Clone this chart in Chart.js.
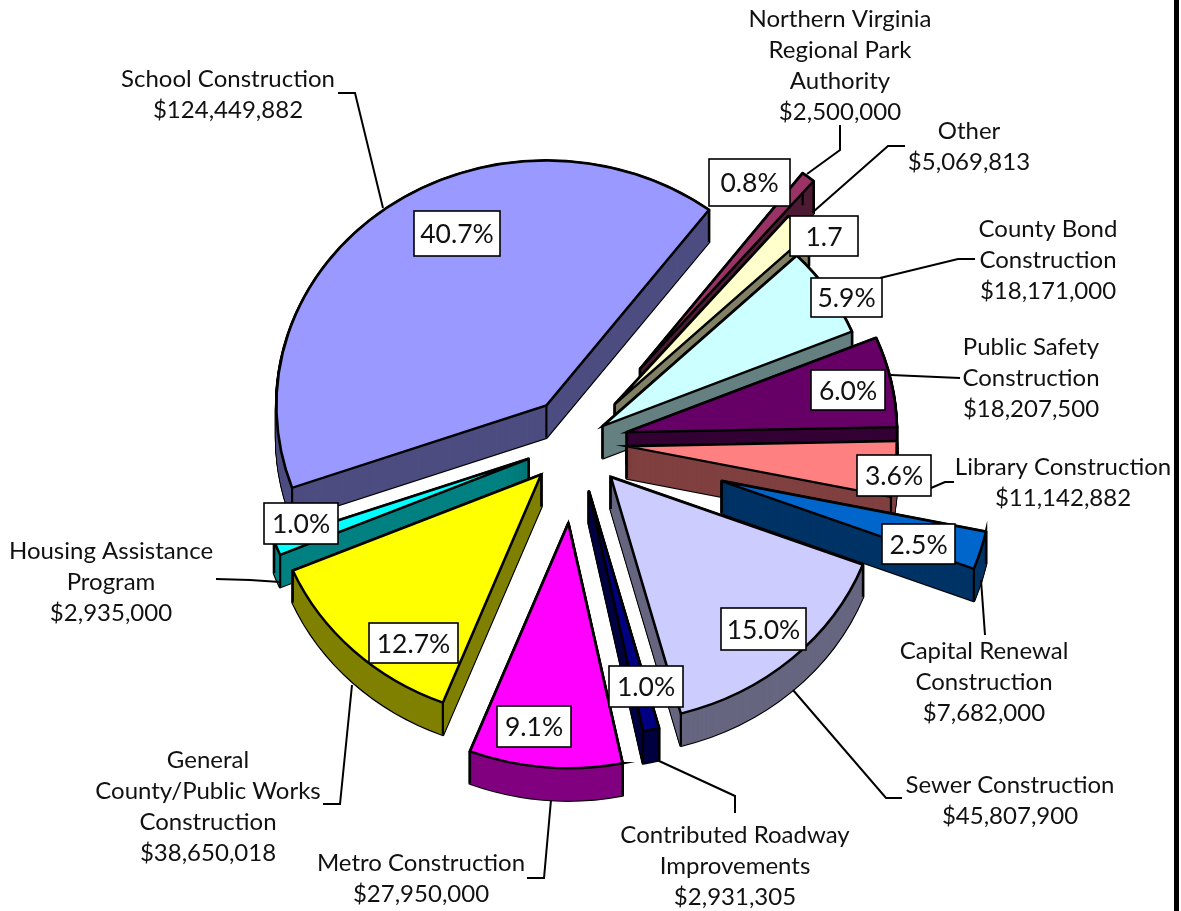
<!DOCTYPE html>
<html><head><meta charset="utf-8">
<style>
html,body{margin:0;padding:0;background:#fff;overflow:hidden}
#wrap{position:relative;width:1181px;height:911px}
#bar{position:absolute;left:1174px;top:0;width:5px;height:911px;background:#000}
canvas{position:absolute;left:0;top:0}
</style>
<script src="https://cdn.jsdelivr.net/npm/chart.js@4/dist/chart.umd.js"></script>
</head><body>
<div id="wrap"><canvas id="c" width="1181" height="911"></canvas><div id="bar"></div></div>
<script>
// ---- data (drawn order: back to front) ----
const categories = ["Housing Assistance Program","School Construction","Northern Virginia Regional Park Authority","Other","County Bond Construction","Public Safety Construction","Library Construction","Capital Renewal Construction","Sewer Construction","Contributed Roadway Improvements","Metro Construction","General County/Public Works Construction"];
const values = [2935000,124449882,2500000,5069813,18171000,18207500,11142882,7682000,45807900,2931305,27950000,38650018];
const percentLabels = ["1.0%","40.7%","0.8%","1.7","5.9%","6.0%","3.6%","2.5%","15.0%","1.0%","9.1%","12.7%"];
const colors = ["#00ffff","#9999ff","#993366","#ffffcc","#ccffff","#660066","#ff8080","#0066cc","#ccccff","#000080","#ff00ff","#ffff00"];
const explode = [51,50,103,57,32,52,51,152,52,56,90,50];

// ---- annotation layout ----
const TILT = 0.907, DEPTH = 32, FONT = '24px Lato', PCT_FONT = '26.5px Lato';
const calloutLines = [
 ["Housing Assistance","Program","$2,935,000"],
 ["School Construction","$124,449,882"],
 ["Northern Virginia","Regional Park","Authority","$2,500,000"],
 ["Other","$5,069,813"],
 ["County Bond","Construction","$18,171,000"],
 ["Public Safety","Construction","$18,207,500"],
 ["Library Construction","$11,142,882"],
 ["Capital Renewal","Construction","$7,682,000"],
 ["Sewer Construction","$45,807,900"],
 ["Contributed Roadway","Improvements","$2,931,305"],
 ["Metro Construction","$27,950,000"],
 ["General","County/Public Works","Construction","$38,650,018"]
];
const calloutAt = [[111,551],[228,79],[840,19],[969,131],[1048,229],[1031,347],[1063,467],[984,651],[1010,785],[735,835],[421,863],[208,760]];
const leaders = [
 [[216,579],[250,580],[280,582]],
 [[338,93],[355,93],[383,208]],
 [[807,174],[840,150],[840,125]],
 [[813,212],[888,146],[905,146]],
 [[880,278],[958,259],[975,259]],
 [[891,375],[960,378]],
 [[931,488],[945,482],[954,482]],
 [[981,580],[985,635]],
 [[793,690],[886,798],[902,798]],
 [[657,760],[735,796],[735,813]],
 [[551,800],[544,878],[527,878]],
 [[352,685],[340,804],[323,804]]
];
const boxes = [[264,503,338,544],[414,211,500,256],[709,159,790,206],[790,216,858,256],[811,278,882,317],[811,370,885,410],[857,455,931,496],[882,524,955,564],[721,608,806,650],[609,666,683,707],[497,706,571,747],[369,623,458,663]];

function shade(hex){
  const n=parseInt(hex.slice(1),16);
  const h=v=>Math.round(v/2);
  return `rgb(${h(n>>16)},${h((n>>8)&255)},${h(n&255)})`;
}

// 3-D exploded slice built on the library's own arc element geometry
const baseDraw = Chart.ArcElement.prototype.draw;
Chart.ArcElement.prototype.draw = function(ctx, area){
  const i = this.$context.index;
  const {x,y,startAngle:s,endAngle:e,outerRadius:R} = this;
  const mid=(s+e)/2, ex=explode[i];
  const cx=x+Math.cos(mid)*ex, cy=y+TILT*Math.sin(mid)*ex;
  const path=d=>{
    ctx.save();
    ctx.translate(cx,cy+d);ctx.scale(1,TILT);
    ctx.beginPath();ctx.moveTo(0,0);ctx.arc(0,0,R,s,e);ctx.closePath();
    ctx.restore();
  };
  ctx.save();
  ctx.lineJoin='round';
  ctx.strokeStyle='#000';ctx.lineWidth=3;
  for(let d=DEPTH;d>=0;d-=1){path(d);ctx.stroke();}
  const wall=shade(colors[i]);
  ctx.fillStyle=wall;ctx.strokeStyle=wall;ctx.lineWidth=0.8;
  for(let d=DEPTH;d>=0;d-=1){path(d);ctx.fill();ctx.stroke();}
  ctx.strokeStyle='#000';ctx.lineWidth=2.2;
  const corners=[[0,0],[Math.cos(s)*R,Math.sin(s)*R*TILT],[Math.cos(e)*R,Math.sin(e)*R*TILT]];
  for(const [px,py] of corners){
    ctx.beginPath();ctx.moveTo(cx+px,cy+py);ctx.lineTo(cx+px,cy+py+DEPTH);ctx.stroke();
  }
  ctx.restore();
  ctx.save();
  ctx.translate(cx,cy);ctx.scale(1,TILT);ctx.translate(-x,-y);
  baseDraw.call(this,ctx,area);
  ctx.restore();
};

const annotations = {
  id:'annotations',
  afterDatasetsDraw(chart){
    const ctx=chart.ctx;
    ctx.save();
    ctx.strokeStyle='#000';ctx.lineWidth=2;ctx.lineJoin='miter';
    for(const l of leaders){
      ctx.beginPath();l.forEach((p,j)=>j?ctx.lineTo(p[0],p[1]):ctx.moveTo(p[0],p[1]));ctx.stroke();
    }
    ctx.textAlign='center';ctx.textBaseline='middle';
    ctx.font=PCT_FONT;
    boxes.forEach((b,i)=>{
      ctx.fillStyle='#fff';ctx.fillRect(b[0],b[1],b[2]-b[0],b[3]-b[1]);
      ctx.lineWidth=1.6;ctx.strokeRect(b[0],b[1],b[2]-b[0],b[3]-b[1]);
      ctx.fillStyle='#111';ctx.fillText(percentLabels[i],(b[0]+b[2])/2,(b[1]+b[3])/2+1);
    });
    ctx.font=FONT;
    calloutLines.forEach((lines,i)=>{
      const [tx,ty]=calloutAt[i];
      lines.forEach((t,j)=>ctx.fillText(t,tx,ty+j*31));
    });
    ctx.restore();
  }
};

new Chart(document.getElementById('c'),{
  type:'pie',
  data:{labels:categories,datasets:[{data:values,backgroundColor:colors,borderColor:'#000',borderWidth:2.6,radius:270,borderJoinStyle:'miter'}]},
  options:{
    responsive:false,animation:false,rotation:246.9,
    layout:{padding:{left:0,top:0,right:29,bottom:27}},
    plugins:{legend:{display:false},tooltip:{enabled:false}}
  },
  plugins:[annotations]
});
</script>
</body></html>
